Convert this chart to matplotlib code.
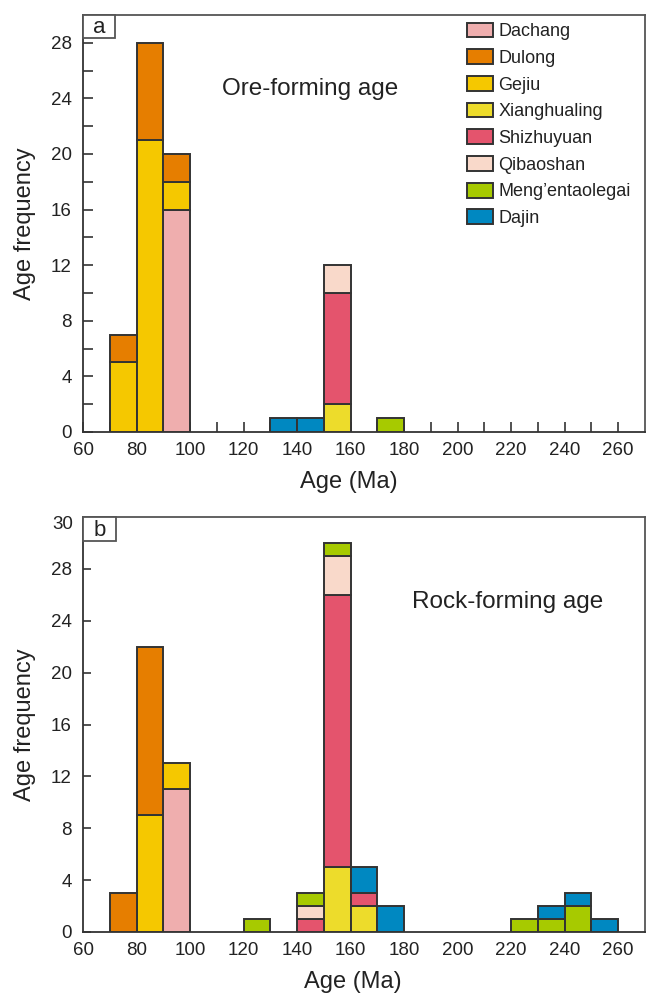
import matplotlib
matplotlib.use("Agg")
import matplotlib.pyplot as plt
import matplotlib.patches as mpatches
import numpy as np

plt.rcParams['font.family'] = ['Liberation Sans', 'DejaVu Sans']

# ---------------- data ----------------
bin_left = [60, 70, 80, 90, 100, 110, 120, 130, 140, 150, 160,
            170, 180, 190, 200, 210, 220, 230, 240, 250, 260]
bin_width = 10

deposits = ["Dachang", "Dulong", "Gejiu", "Xianghualing", "Shizhuyuan",
            "Qibaoshan", "Meng’entaolegai", "Dajin"]
stack_order = ["Dachang", "Gejiu", "Dulong", "Xianghualing", "Shizhuyuan",
               "Qibaoshan", "Meng’entaolegai", "Dajin"]
colors = {"Dachang": "#EFAEAE", "Dulong": "#E67E00", "Gejiu": "#F5C800",
          "Xianghualing": "#EDDC2B", "Shizhuyuan": "#E4546D",
          "Qibaoshan": "#F9D9CA", "Meng’entaolegai": "#A7CA00",
          "Dajin": "#0088C1"}

# Panel a: ore-forming age (counts per 10 Ma bin)
ore_dachang      = [0, 0, 0, 16, 0, 0, 0, 0, 0, 0, 0, 0, 0, 0, 0, 0, 0, 0, 0, 0, 0]
ore_dulong       = [0, 2, 7, 2, 0, 0, 0, 0, 0, 0, 0, 0, 0, 0, 0, 0, 0, 0, 0, 0, 0]
ore_gejiu        = [0, 5, 21, 2, 0, 0, 0, 0, 0, 0, 0, 0, 0, 0, 0, 0, 0, 0, 0, 0, 0]
ore_xianghualing = [0, 0, 0, 0, 0, 0, 0, 0, 0, 2, 0, 0, 0, 0, 0, 0, 0, 0, 0, 0, 0]
ore_shizhuyuan   = [0, 0, 0, 0, 0, 0, 0, 0, 0, 8, 0, 0, 0, 0, 0, 0, 0, 0, 0, 0, 0]
ore_qibaoshan    = [0, 0, 0, 0, 0, 0, 0, 0, 0, 2, 0, 0, 0, 0, 0, 0, 0, 0, 0, 0, 0]
ore_meng         = [0, 0, 0, 0, 0, 0, 0, 0, 0, 0, 0, 1, 0, 0, 0, 0, 0, 0, 0, 0, 0]
ore_dajin        = [0, 0, 0, 0, 0, 0, 0, 1, 1, 0, 0, 0, 0, 0, 0, 0, 0, 0, 0, 0, 0]

# Panel b: rock-forming age
rock_dachang      = [0, 0, 0, 11, 0, 0, 0, 0, 0, 0, 0, 0, 0, 0, 0, 0, 0, 0, 0, 0, 0]
rock_dulong       = [0, 3, 13, 0, 0, 0, 0, 0, 0, 0, 0, 0, 0, 0, 0, 0, 0, 0, 0, 0, 0]
rock_gejiu        = [0, 0, 9, 2, 0, 0, 0, 0, 0, 0, 0, 0, 0, 0, 0, 0, 0, 0, 0, 0, 0]
rock_xianghualing = [0, 0, 0, 0, 0, 0, 0, 0, 0, 5, 2, 0, 0, 0, 0, 0, 0, 0, 0, 0, 0]
rock_shizhuyuan   = [0, 0, 0, 0, 0, 0, 0, 0, 1, 21, 1, 0, 0, 0, 0, 0, 0, 0, 0, 0, 0]
rock_qibaoshan    = [0, 0, 0, 0, 0, 0, 0, 0, 1, 3, 0, 0, 0, 0, 0, 0, 0, 0, 0, 0, 0]
rock_meng         = [0, 0, 0, 0, 0, 0, 1, 0, 1, 1, 0, 0, 0, 0, 0, 0, 1, 1, 2, 0, 0]
rock_dajin        = [0, 0, 0, 0, 0, 0, 0, 0, 0, 0, 2, 2, 0, 0, 0, 0, 0, 1, 1, 1, 0]

ore = {"Dachang": ore_dachang, "Dulong": ore_dulong, "Gejiu": ore_gejiu,
       "Xianghualing": ore_xianghualing, "Shizhuyuan": ore_shizhuyuan,
       "Qibaoshan": ore_qibaoshan, "Meng’entaolegai": ore_meng, "Dajin": ore_dajin}
rock = {"Dachang": rock_dachang, "Dulong": rock_dulong, "Gejiu": rock_gejiu,
        "Xianghualing": rock_xianghualing, "Shizhuyuan": rock_shizhuyuan,
        "Qibaoshan": rock_qibaoshan, "Meng’entaolegai": rock_meng, "Dajin": rock_dajin}

x_major = [60, 80, 100, 120, 140, 160, 180, 200, 220, 240, 260]

# ---------------- figure ----------------
W, H = 646, 1000
fig = plt.figure(figsize=(W / 100, H / 100), dpi=100)

def px_axes(l, t, r, b):
    return fig.add_axes([l / W, 1 - b / H, (r - l) / W, (b - t) / H])

axa = px_axes(83, 15, 645, 432)
axb = px_axes(83, 517, 645, 932)

EDGE = "#333333"
SPINE = "#555555"
TXT = "#222222"
TICKFS = 13.5

def draw(ax, data):
    left = np.array(bin_left, dtype=float)
    bottom = np.zeros(len(left))
    for name in stack_order:
        vals = np.array(data[name], dtype=float)
        m = vals > 0
        ax.bar(left[m], vals[m], width=bin_width, bottom=bottom[m], align='edge',
               color=colors[name], edgecolor=EDGE, linewidth=1.4, zorder=3)
        bottom += vals
    ax.set_xlim(60, 270)
    ax.set_xticks(x_major)
    for s in ax.spines.values():
        s.set_color(SPINE)
        s.set_linewidth(1.3)
    ax.spines['left'].set_color("#333333")
    ax.spines['bottom'].set_color("#333333")
    ax.tick_params(axis='both', which='both', direction='in', color="#333333",
                   width=1.2, labelsize=TICKFS, labelcolor=TXT)
    ax.tick_params(axis='y', pad=8)
    ax.tick_params(axis='x', pad=7)
    ax.set_ylabel("Age frequency", fontsize=17, color=TXT, labelpad=11)

def panel_label(ax, letter, w, h):
    ax.add_patch(mpatches.Rectangle((0, 1 - h), w, h, transform=ax.transAxes,
                                    facecolor='white', edgecolor=SPINE,
                                    linewidth=1.3, zorder=5, clip_on=False))
    ax.text(w / 2, 1 - h / 2 - 0.003, letter, transform=ax.transAxes, ha='center',
            va='center', fontsize=16, color=TXT, zorder=6)

# Panel a
draw(axa, ore)
axa.set_ylim(0, 30)
axa.set_yticks(np.arange(0, 29, 4))
axa.set_yticks(np.arange(2, 28, 4), minor=True)
axa.set_xticks(np.arange(70, 270, 20), minor=True)
axa.tick_params(axis='both', which='both', length=7)
axa.set_xlabel("Age (Ma)", fontsize=17, color=TXT, labelpad=9, x=0.473)
axa.text(0.247, 0.822, "Ore-forming age", transform=axa.transAxes,
         fontsize=17.5, color=TXT, ha='left', va='center')
panel_label(axa, "a", 0.057, 0.055)

handles = [mpatches.Patch(facecolor=colors[n], edgecolor=EDGE, linewidth=1.4, label=n)
           for n in deposits]
axa.legend(handles=handles, loc='upper left', bbox_to_anchor=(0.683, 0.982),
           frameon=False, fontsize=13, handlelength=1.44, handleheight=0.89,
           handletextpad=0.3, labelspacing=0.5, borderpad=0, borderaxespad=0,
           labelcolor=TXT)

# Panel b
draw(axb, rock)
axb.set_ylim(0, 32)
axb.set_yticks(np.arange(0, 29, 4))
axb.tick_params(axis='y', which='major', length=6)
axb.tick_params(axis='x', which='major', length=0)
axb.set_xticks([200], minor=True)
axb.tick_params(axis='x', which='minor', length=6)
axb.text(-0.018, 0.983, "30", transform=axb.transAxes, ha='right', va='center',
         fontsize=TICKFS, color=TXT)
axb.set_xlabel("Age (Ma)", fontsize=17, color=TXT, labelpad=9, x=0.48)
axb.text(0.585, 0.795, "Rock-forming age", transform=axb.transAxes,
         fontsize=17.5, color=TXT, ha='left', va='center')
panel_label(axb, "b", 0.058, 0.058)

fig.savefig("out.png", dpi=100, facecolor='white')
